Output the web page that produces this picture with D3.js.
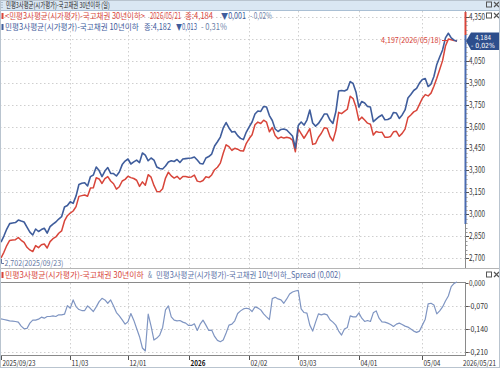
<!DOCTYPE html>
<html>
<head>
<meta charset="utf-8">
<script src="https://cdn.jsdelivr.net/npm/d3@7/dist/d3.min.js"></script>
<style>
    body { margin: 0; background: #fff; }
    svg { display: block; font-family: "Noto Sans CJK KR", "Noto Sans", sans-serif; }
</style>
</head>
<body>
<div id="chart"></div>
<script>
// 민평3사평균(시가평가)-국고채권 10년이하 (blue), one value per business day
const blue10 = [
    2.811, 2.852, 2.900, 2.937, 2.941, 2.944, 2.961, 2.954, 2.948, 2.913,
    2.879, 2.859, 2.900, 2.883, 2.896, 2.905, 2.872, 2.916, 2.934, 2.948,
    2.968, 2.984, 3.050, 3.060, 3.086, 3.075, 3.125, 3.204, 3.212, 3.216,
    3.194, 3.258, 3.269, 3.323, 3.299, 3.258, 3.296, 3.320, 3.280, 3.279,
    3.262, 3.289, 3.340, 3.364, 3.378, 3.344, 3.358, 3.371, 3.354, 3.419,
    3.405, 3.366, 3.385, 3.371, 3.323, 3.313, 3.310, 3.330, 3.358, 3.366,
    3.361, 3.375, 3.354, 3.378, 3.381, 3.383, 3.385, 3.392, 3.371, 3.347,
    3.344, 3.385, 3.395, 3.412, 3.467, 3.496, 3.528, 3.590, 3.627, 3.590,
    3.562, 3.566, 3.538, 3.519, 3.511, 3.562, 3.597, 3.631, 3.685, 3.706,
    3.703, 3.737, 3.733, 3.675, 3.641, 3.583, 3.566, 3.580, 3.583, 3.576,
    3.556, 3.535, 3.453, 3.607, 3.631, 3.610, 3.644, 3.713, 3.624, 3.603,
    3.621, 3.651, 3.685, 3.685, 3.644, 3.621, 3.699, 3.843, 3.846, 3.843,
    3.853, 3.907, 3.894, 3.836, 3.733, 3.771, 3.761, 3.737, 3.733, 3.633,
    3.651, 3.667, 3.679, 3.646, 3.648, 3.658, 3.696, 3.692, 3.655, 3.679,
    3.713, 3.795, 3.819, 3.846, 3.860, 3.897, 3.921, 3.928, 3.873, 3.890,
    3.942, 4.024, 4.075, 4.123, 4.205, 4.237, 4.205, 4.190, 4.182
];

// 민평3사평균(시가평가)-국고채권 30년이하 (red)
const red30 = [
    2.702, 2.741, 2.787, 2.822, 2.825, 2.827, 2.842, 2.823, 2.809, 2.775,
    2.757, 2.746, 2.787, 2.773, 2.792, 2.798, 2.770, 2.814, 2.834, 2.846,
    2.871, 2.887, 2.955, 2.991, 3.009, 3.023, 3.053, 3.123, 3.128, 3.132,
    3.124, 3.180, 3.182, 3.250, 3.242, 3.211, 3.244, 3.258, 3.228, 3.209,
    3.172, 3.189, 3.228, 3.239, 3.260, 3.251, 3.245, 3.233, 3.191, 3.222,
    3.199, 3.271, 3.254, 3.198, 3.156, 3.155, 3.175, 3.248, 3.288, 3.263,
    3.248, 3.260, 3.240, 3.259, 3.259, 3.254, 3.256, 3.268, 3.227, 3.222,
    3.231, 3.257, 3.251, 3.269, 3.305, 3.322, 3.350, 3.417, 3.475, 3.462,
    3.437, 3.451, 3.445, 3.434, 3.432, 3.485, 3.518, 3.544, 3.612, 3.630,
    3.621, 3.643, 3.630, 3.564, 3.593, 3.539, 3.517, 3.528, 3.521, 3.527,
    3.522, 3.507, 3.428, 3.584, 3.552, 3.520, 3.552, 3.585, 3.478, 3.484,
    3.527, 3.554, 3.591, 3.588, 3.532, 3.502, 3.571, 3.697, 3.688, 3.703,
    3.718, 3.807, 3.791, 3.733, 3.642, 3.664, 3.644, 3.623, 3.616, 3.542,
    3.566, 3.560, 3.561, 3.527, 3.526, 3.532, 3.564, 3.567, 3.533, 3.553,
    3.582, 3.661, 3.679, 3.700, 3.710, 3.751, 3.793, 3.818, 3.809, 3.828,
    3.875, 3.930, 3.990, 4.050, 4.150, 4.197, 4.193, 4.188, 4.184
];

// 30년이하 & 10년이하 Spread
const spread = [
    -0.109, -0.111, -0.113, -0.115, -0.116, -0.117, -0.119, -0.131, -0.139, -0.138,
    -0.122, -0.113, -0.113, -0.110, -0.104, -0.107, -0.102, -0.102, -0.100, -0.102,
    -0.097, -0.097, -0.095, -0.069, -0.077, -0.052, -0.072, -0.081, -0.084, -0.084,
    -0.070, -0.078, -0.087, -0.073, -0.057, -0.047, -0.052, -0.062, -0.052, -0.070,
    -0.090, -0.100, -0.112, -0.125, -0.118, -0.093, -0.113, -0.138, -0.163, -0.197,
    -0.206, -0.095, -0.131, -0.173, -0.167, -0.158, -0.135, -0.082, -0.070, -0.103,
    -0.113, -0.115, -0.114, -0.119, -0.122, -0.129, -0.129, -0.124, -0.144, -0.125,
    -0.113, -0.128, -0.144, -0.143, -0.162, -0.174, -0.178, -0.173, -0.152, -0.128,
    -0.125, -0.115, -0.093, -0.085, -0.079, -0.077, -0.079, -0.087, -0.073, -0.076,
    -0.082, -0.094, -0.103, -0.111, -0.048, -0.044, -0.049, -0.052, -0.062, -0.049,
    -0.034, -0.028, -0.025, -0.023, -0.079, -0.090, -0.092, -0.128, -0.146, -0.119,
    -0.094, -0.097, -0.094, -0.097, -0.112, -0.119, -0.128, -0.146, -0.158, -0.140,
    -0.135, -0.100, -0.103, -0.103, -0.091, -0.107, -0.117, -0.114, -0.117, -0.091,
    -0.085, -0.107, -0.118, -0.119, -0.122, -0.126, -0.132, -0.125, -0.122, -0.126,
    -0.131, -0.134, -0.140, -0.146, -0.150, -0.146, -0.128, -0.110, -0.064, -0.062,
    -0.067, -0.094, -0.085, -0.073, -0.055, -0.040, -0.012, -0.002, 0.002
];

// x axis: business-day index of each labelled date
const tickIdx = [0, 24, 44, 65, 86, 103, 124, 146];
const tickLabels = ["2025/09/23", "11/03", "12/01", "2026", "02/02", "03/03", "04/01", "05/04"];
const lastLabel = "2026/05/21";

const yTicks = [4.35, 4.20, 4.05, 3.90, 3.75, 3.60, 3.45, 3.30, 3.15, 3.00, 2.85, 2.70];
const spreadTicks = [0, -0.07, -0.14, -0.21];

const RED = "#d8453a";
const BLUE = "#3f5d9c";
const PALE = "#6c7fa8";
const SPREAD = "#7f95c2";
const GRID = "#cfcfcf";

// "4.350" -> "4,350" like the HTS screen
const fmt = v => v.toFixed(3).replace(".", ",");

// text squeezed to a given width (the HTS font is much narrower than Noto)
function txt(g, x, y, s, width, opt) {
    opt = opt || {};
    let t = g.append("text")
        .attr("x", 0)
        .attr("y", 0)
        .attr("font-size", opt.size || 8.5)
        .attr("fill", opt.fill || "#333")
        .text(s);
    if (opt.bold) t.attr("font-weight", "bold");
    if (opt.family) t.attr("font-family", opt.family);
    let w = t.node().getComputedTextLength();
    let k = width / w;
    let x0 = x;
    if (opt.anchor === "end") x0 = x - width;
    if (opt.anchor === "middle") x0 = x - width / 2;
    t.attr("transform", `translate(${x0},${y}) scale(${k},1)`);
    return t;
}

const svg = d3.select("#chart").append("svg")
    .attr("width", 500)
    .attr("height", 368);

const x = d3.scaleLinear().domain([0, blue10.length - 1]).range([1, 457]);
const y = d3.scaleLinear().domain([2.70, 4.35]).range([258.3, 16.7]);
const ys = d3.scaleLinear().domain([-0.21, 0]).range([352.3, 282.7]);

// title bar
svg.append("rect").attr("x", 0).attr("y", 0).attr("width", 500).attr("height", 10)
    .attr("fill", "#dae7f3");
svg.append("line").attr("x1", 0).attr("x2", 500).attr("y1", 10.5).attr("y2", 10.5)
    .attr("stroke", "#a9bfd4");
[2.5, 5, 7.5].forEach(d => svg.append("rect").attr("x", 1.5).attr("y", d - 0.5)
    .attr("width", 1).attr("height", 1).attr("fill", "#7b8fa6"));
txt(svg, 6, 8, "민평3사평균(시가평가)-국고채권 30년이하 (일)", 104, {size: 7.8, fill: "#222"});

function winIcons(cy) {
    svg.append("rect").attr("x", 486.5).attr("y", cy - 3).attr("width", 5).attr("height", 5)
        .attr("fill", "none").attr("stroke", "#555");
    svg.append("path").attr("d", `M494,${cy - 3}L499,${cy + 2}M499,${cy - 3}L494,${cy + 2}`)
        .attr("stroke", "#555").attr("stroke-width", 1.2);
}
winIcons(5);

// ---- main panel grid
svg.append("g").selectAll("line").data(yTicks).join("line")
    .attr("x1", 0).attr("x2", 465)
    .attr("y1", d => Math.round(y(d)) + 0.5).attr("y2", d => Math.round(y(d)) + 0.5)
    .attr("stroke", GRID).attr("stroke-dasharray", "1.5,2.5");
svg.append("g").selectAll("line").data(tickIdx.slice(1)).join("line")
    .attr("x1", d => Math.round(x(d)) + 0.5).attr("x2", d => Math.round(x(d)) + 0.5)
    .attr("y1", 11).attr("y2", 268)
    .attr("stroke", GRID).attr("stroke-dasharray", "1.5,2.5");

// legends
svg.append("rect").attr("x", 1.5).attr("y", 13).attr("width", 2).attr("height", 6).attr("fill", RED);
txt(svg, 5, 19, "<민평3사평균(시가평가)-국고채권 30년이하>", 140, {fill: RED});
txt(svg, 150, 19, "2026/05/21", 31, {fill: RED});
txt(svg, 185, 19, "종:4,184", 28, {fill: RED});
txt(svg, 221, 19, "▼0,001", 25, {fill: BLUE});
txt(svg, 250, 19, "- 0,02%", 22, {fill: PALE});

svg.append("rect").attr("x", 1.5).attr("y", 24).attr("width", 2).attr("height", 6).attr("fill", BLUE);
txt(svg, 5, 30, "민평3사평균(시가평가)-국고채권 10년이하", 134, {fill: BLUE});
txt(svg, 144, 30, "종:4,182", 27, {fill: BLUE});
txt(svg, 176, 30, "▼0,013", 21, {fill: BLUE});
txt(svg, 201, 30, "- 0,31%", 26, {fill: PALE});

// lines
const lineMain = d3.line().x((d, i) => x(i)).y(d => y(d));
svg.append("path").datum(red30).attr("d", lineMain)
    .attr("fill", "none").attr("stroke", RED).attr("stroke-width", 1.5).attr("stroke-linejoin", "round");
svg.append("path").datum(blue10).attr("d", lineMain)
    .attr("fill", "none").attr("stroke", BLUE).attr("stroke-width", 1.6).attr("stroke-linejoin", "round");

// max / min annotations
let iMax = d3.maxIndex(red30);
txt(svg, 441, 43.3, fmt(red30[iMax]) + "(2026/05/18)", 60, {anchor: "end", fill: RED, size: 8});
svg.append("line").attr("x1", 442).attr("x2", x(iMax) - 1).attr("y1", 40.5).attr("y2", 40.5)
    .attr("stroke", RED);
let iMin = d3.minIndex(red30);
svg.append("path").attr("d", `M${x(iMin) + 0.5},${y(red30[iMin]) + 1}V263.5H4`)
    .attr("fill", "none").attr("stroke", "#6678a3");
txt(svg, 4.5, 266, fmt(red30[iMin]) + "(2025/09/23)", 59, {fill: "#6678a3", size: 8});

// right axis (main)
svg.append("line").attr("x1", 465.5).attr("x2", 465.5).attr("y1", 11).attr("y2", 268).attr("stroke", "#8a8a8a");
svg.append("line").attr("x1", 465.5).attr("x2", 465.5).attr("y1", 12).attr("y2", 35)
    .attr("stroke", RED).attr("stroke-width", 2);
svg.append("line").attr("x1", 465.5).attr("x2", 465.5).attr("y1", 35).attr("y2", 224)
    .attr("stroke", "#4a6bb0").attr("stroke-width", 2);
svg.append("g").selectAll("line").data(d3.range(2.70, 4.351, 0.03)).join("line")
    .attr("x1", 466).attr("x2", 467.5)
    .attr("y1", d => Math.round(y(d)) + 0.5).attr("y2", d => Math.round(y(d)) + 0.5)
    .attr("stroke", "#999");
yTicks.filter(d => Math.abs(d - 4.20) > 0.01).forEach(d => {
    svg.append("line").attr("x1", 466).attr("x2", 469)
        .attr("y1", Math.round(y(d)) + 0.5).attr("y2", Math.round(y(d)) + 0.5).attr("stroke", "#555");
    txt(svg, 469, y(d) + 3, fmt(d), 16);
});
winIcons(16);

// current value box
let last = red30[red30.length - 1];
let by = y(last);
svg.append("path")
    .attr("d", `M466,${by}L471,${by - 8.5}H500V${by + 9}H471Z`)
    .attr("fill", "#2d4e8c");
txt(svg, 483, by - 1.5, fmt(last), 16, {anchor: "middle", fill: "#fff", size: 7, family: "DejaVu Sans"});
txt(svg, 483, by + 6.8, "- 0,02%", 24, {anchor: "middle", fill: "#fff", size: 7, family: "DejaVu Sans"});

// ---- spread panel
svg.append("line").attr("x1", 0).attr("x2", 500).attr("y1", 268.5).attr("y2", 268.5).attr("stroke", "#b5b5b5");
svg.append("rect").attr("x", 1.5).attr("y", 272).attr("width", 2).attr("height", 6).attr("fill", RED);
txt(svg, 5, 278, "민평3사평균(시가평가)-국고채권 30년이하", 139, {fill: RED});
txt(svg, 148, 278, "&", 4, {fill: PALE});
txt(svg, 156, 278, "민평3사평균(시가평가)-국고채권 10년이하_Spread (0,002)", 185, {fill: "#5a70a6"});
winIcons(275);

svg.append("g").selectAll("line").data(spreadTicks.slice(1)).join("line")
    .attr("x1", 0).attr("x2", 465)
    .attr("y1", d => Math.round(ys(d)) + 0.5).attr("y2", d => Math.round(ys(d)) + 0.5)
    .attr("stroke", GRID).attr("stroke-dasharray", "1.5,2.5");
svg.append("g").selectAll("line").data(tickIdx.slice(1)).join("line")
    .attr("x1", d => Math.round(x(d)) + 0.5).attr("x2", d => Math.round(x(d)) + 0.5)
    .attr("y1", 283).attr("y2", 355)
    .attr("stroke", GRID).attr("stroke-dasharray", "1.5,2.5");
svg.append("line").attr("x1", 0).attr("x2", 466).attr("y1", 282.5).attr("y2", 282.5).attr("stroke", "#8a8a8a");

const lineSpread = d3.line().x((d, i) => x(i)).y(d => ys(d));
svg.append("path").datum(spread).attr("d", lineSpread)
    .attr("fill", "none").attr("stroke", SPREAD).attr("stroke-width", 1.2).attr("stroke-linejoin", "round");

svg.append("line").attr("x1", 465.5).attr("x2", 465.5).attr("y1", 282).attr("y2", 356).attr("stroke", "#8a8a8a");
spreadTicks.forEach(d => {
    let yy = Math.round(ys(d)) + 0.5;
    svg.append("line").attr("x1", 466).attr("x2", 468.5).attr("y1", yy).attr("y2", yy).attr("stroke", "#555");
    txt(svg, d < 0 ? 468 : 469, Math.min(ys(d) + 3, 354.8), fmt(d), d < 0 ? 20 : 16, {size: 8});
});

// bottom date axis
svg.append("line").attr("x1", 0).attr("x2", 466).attr("y1", 355.5).attr("y2", 355.5).attr("stroke", "#8a8a8a");
tickIdx.forEach((d, i) => {
    let xx = Math.round(x(d)) + 0.5;
    svg.append("line").attr("x1", xx).attr("x2", xx).attr("y1", 356).attr("y2", 360).attr("stroke", "#555");
    let s = tickLabels[i];
    let len = s.length === 10 ? 33 : (s === "2026" ? 15 : 17);
    txt(svg, xx + 1, 366, s, len, {size: 8, bold: s === "2026", fill: s === "2026" ? "#111" : "#333"});
});
txt(svg, 496, 366, lastLabel, 33, {anchor: "end", size: 8});

// outer frame
svg.append("rect").attr("x", 0.5).attr("y", 0.5).attr("width", 499).attr("height", 367)
    .attr("fill", "none").attr("stroke", "#b9c4cf");
</script>
</body>
</html>
